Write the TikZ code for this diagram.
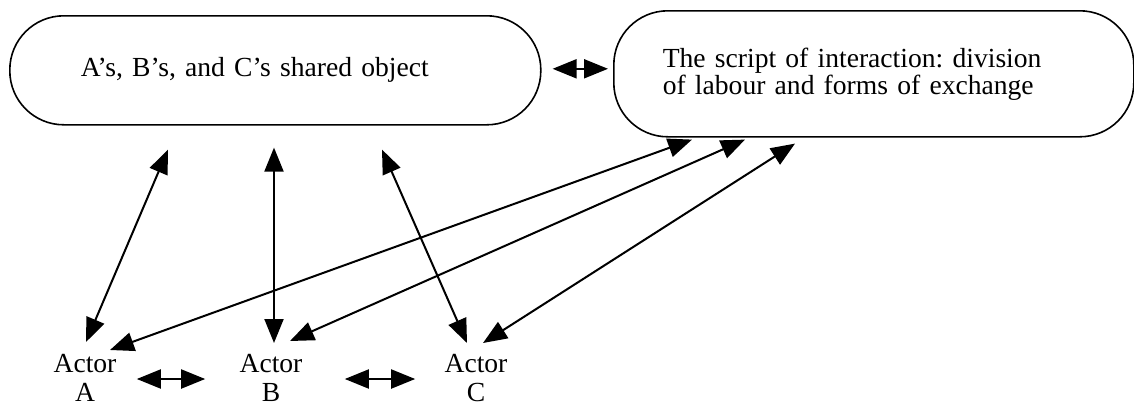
\documentclass[tikz,border=0pt]{standalone}
\usepackage{fontspec}
\setmainfont{Liberation Serif}
\frenchspacing
\usetikzlibrary{arrows.meta,calc}
\tikzset{
    pill/.style={draw, line width=0.8pt, rounded corners=27pt, inner ysep=0pt, align=left, anchor=north west},
    actor/.style={align=center, inner sep=0pt, anchor=north, font=\fontsize{13.8}{14.5}\selectfont},
    link/.style={{Triangle[length=12pt,width=9.5pt]}-{Triangle[length=12pt,width=9.5pt]}, line width=1pt},
}
\begin{document}
\begin{tikzpicture}[x=0.5pt,y=-0.5pt,font=\fontsize{13.8}{13.5}\selectfont]
    \useasboundingbox (0,0) rectangle (1134,407);
    % boxes
    \node[pill, minimum width=265.5pt, minimum height=54.5pt, text width=194.5pt, inner xsep=35.5pt] (obj) at (9,15) {A's, B's, and C's shared object};
    \node[pill, minimum width=260pt, minimum height=63pt, text width=211pt, inner xsep=24.5pt] (scr) at (613,10) {The script of interaction: division\\of labour and forms of exchange};
    % actors
    \node[actor] (actA) at (85,354) {Actor\\A};
    \node[actor] (actB) at (271,354) {Actor\\B};
    \node[actor] (actC) at (476,354) {Actor\\C};
    \draw[link] ($(obj.east)+(11,-1.5)$) -- ($(scr.west)+(-5,-5)$);
    \draw[link] ($(actA.north east)+(20,25)$) -- ($(actB.north west)+(-34,25)$);
    \draw[link] ($(actB.north east)+(42,25)$) -- ($(actC.north west)+(-29,25)$);
    % to the shared object
    \draw[link] ($(actA.north)+(1,-12)$) -- ($(obj.south west)+(159,24)$);
    \draw[link] ($(actB.north)+(3,-11)$) -- ($(obj.south west)+(265,22)$);
    \draw[link] ($(actC.north)+(-9,-11)$) -- ($(obj.south west)+(373,24)$);
    % to the script
    \draw[link] ($(actA.north)+(25,-4)$) -- ($(scr.south west)+(79,2)$);
    \draw[link] ($(actB.north)+(19,-13)$) -- ($(scr.south west)+(132,2)$);
    \draw[link] ($(actC.north)+(7,-11)$) -- ($(scr.south west)+(182,6)$);
\end{tikzpicture}
\end{document}
